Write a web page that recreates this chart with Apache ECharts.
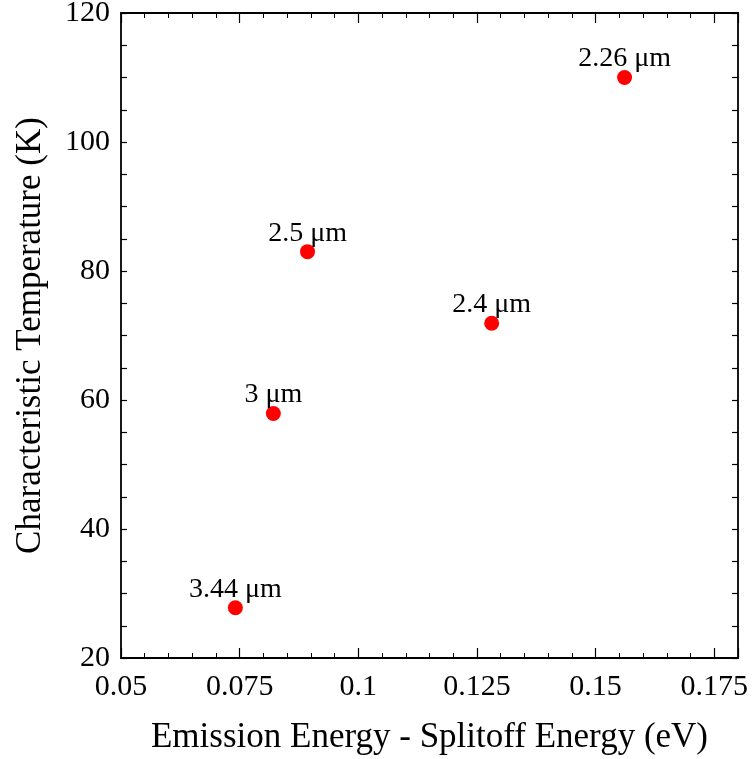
<!DOCTYPE html>
<html>
<head>
<meta charset="utf-8">
<script src="https://cdn.jsdelivr.net/npm/echarts@6/dist/echarts.min.js"></script>
<style>
  html, body { margin: 0; padding: 0; background: #fff; }
  #main { width: 753px; height: 759px; }
</style>
</head>
<body>
<div id="main"></div>
<script>
// data
const energies = [0.0741, 0.0821, 0.0893, 0.1281, 0.1561];
const temps = [27.8, 57.9, 83.0, 71.9, 110.0];
const wavelengths = ['3.44 μm', '3 μm', '2.5 μm', '2.4 μm', '2.26 μm'];
const xTicks = [0.05, 0.075, 0.1, 0.125, 0.15, 0.175];

const font = 'Liberation Serif';
const chart = echarts.init(document.getElementById('main'));

const axisLine = { show: true, lineStyle: { color: '#000', width: 1.8 } };
const xTick = { show: true, inside: true, length: 10, lineStyle: { color: '#000', width: 1.2 } };
const xMinor = { show: true, splitNumber: 5, length: 5, lineStyle: { color: '#000', width: 1 } };
const yTick = { show: true, inside: true, length: 6, lineStyle: { color: '#000', width: 1.2 } };
const yMinor = { show: true, splitNumber: 4, length: 6, lineStyle: { color: '#000', width: 1.2 } };

function fmtX(v) {
  // drop floating noise, keep the labels as printed
  const r = Math.round(v * 1000) / 1000;
  return xTicks.indexOf(r) >= 0 ? String(r) : '';
}

let option = {
  animation: false,
  backgroundColor: '#fff',
  grid: { left: 121, right: 15, top: 13, bottom: 101, outerBoundsMode: 'none' },
  xAxis: [
    {
      type: 'value', min: 0.05, max: 0.18, interval: 0.025,
      name: 'Emission Energy - Splitoff Energy (eV)',
      nameLocation: 'middle', nameGap: 62,
      nameTextStyle: { fontFamily: font, fontSize: 35, color: '#000' },
      axisLine: axisLine, axisTick: xTick, minorTick: xMinor,
      axisLabel: { fontFamily: font, fontSize: 30, color: '#000', margin: 14, formatter: fmtX, showMaxLabel: false },
      splitLine: { show: false }
    },
    {
      type: 'value', min: 0.05, max: 0.18, interval: 0.025, position: 'top',
      axisLine: axisLine, axisTick: xTick, minorTick: xMinor,
      axisLabel: { show: false }, splitLine: { show: false }
    }
  ],
  yAxis: [
    {
      type: 'value', min: 20, max: 120, interval: 20,
      name: 'Characteristic Temperature (K)',
      nameLocation: 'middle', nameGap: 73, nameRotate: 90,
      nameTextStyle: { fontFamily: font, fontSize: 35, color: '#000' },
      axisLine: axisLine, axisTick: yTick, minorTick: yMinor,
      axisLabel: { fontFamily: font, fontSize: 30, color: '#000', margin: 11 },
      splitLine: { show: false }
    },
    {
      type: 'value', min: 20, max: 120, interval: 20, position: 'right',
      axisLine: axisLine, axisTick: yTick, minorTick: yMinor,
      axisLabel: { show: false }, splitLine: { show: false }
    }
  ],
  series: [
    {
      type: 'scatter',
      symbol: 'circle',
      symbolSize: 15,
      itemStyle: { color: '#ff0000', opacity: 1 },
      data: energies.map((e, i) => [e, temps[i], wavelengths[i]]),
      label: {
        show: true,
        position: 'top',
        distance: -3,
        formatter: p => p.data[2],
        fontFamily: font,
        fontSize: 28,
        color: '#000'
      }
    }
  ]
};

chart.setOption(option);
</script>
</body>
</html>
